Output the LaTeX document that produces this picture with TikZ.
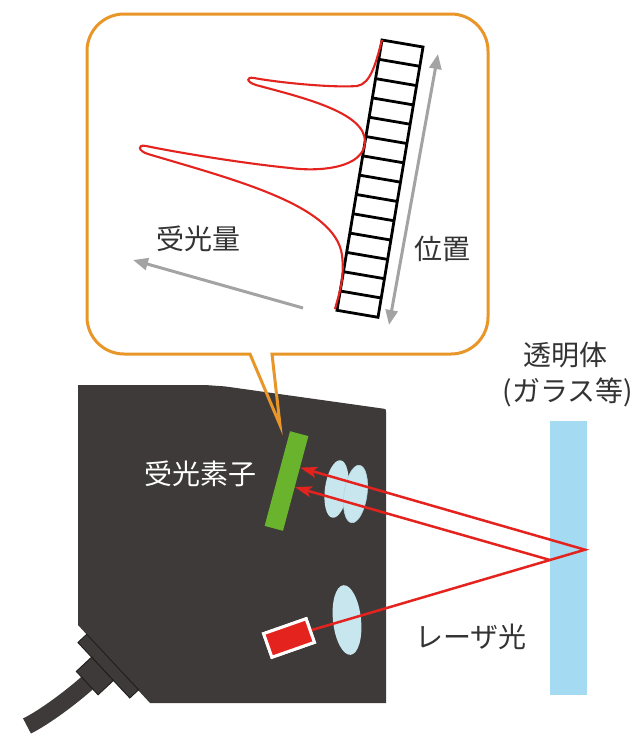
\documentclass[tikz,border=0pt]{standalone}
\usepackage{fontspec}
\newfontfamily\jpfont{Noto Sans CJK JP}
\usetikzlibrary{arrows.meta,calc,shapes.geometric}

\definecolor{bodygray}{RGB}{62,58,57}
\definecolor{bodyline}{RGB}{33,29,28}
\definecolor{calloutorange}{RGB}{232,150,40}
\definecolor{lensblue}{RGB}{200,230,238}
\definecolor{lensedge}{RGB}{178,214,226}
\definecolor{glassblue}{RGB}{165,218,243}
\definecolor{laserred}{RGB}{228,35,30}
\definecolor{sensorgreen}{RGB}{106,180,45}
\definecolor{axisgray}{RGB}{163,163,163}
\definecolor{textgray}{RGB}{51,51,51}

\tikzset{
  lbl/.style={font=\jpfont\fontsize{28}{32}\selectfont, text=textgray, inner sep=0pt},
  lblwhite/.style={lbl, text=white},
  calloutline/.style={draw=calloutorange, line width=3pt, line join=miter},
  cellline/.style={draw=black, line width=2.8pt, line join=miter},
  profile/.style={draw=laserred, line width=2.1pt},
  axisarrow/.style={draw=axisgray, line width=3pt, arrows={-Triangle[length=15pt,width=12pt]}},
  axisboth/.style={draw=axisgray, line width=3pt, arrows={Triangle[length=15pt,width=12pt]-Triangle[length=15pt,width=12pt]}},
  ray/.style={draw=laserred, line width=2.5pt, line join=miter},
  rayhead/.style={ray, arrows={-Stealth[length=17pt,width=11pt,inset=4pt]}},
  lensshape/.style={ellipse, fill=lensblue, inner sep=0pt},
  sensorbar/.style={rectangle, fill=sensorgreen, inner sep=0pt, minimum width=19pt, minimum height=98pt},
  laserbox/.style={rectangle, fill=laserred, draw=white, line width=3pt, inner sep=0pt, minimum width=45pt, minimum height=25pt},
  glasspane/.style={rectangle, fill=glassblue, inner sep=0pt, minimum width=37pt, minimum height=274pt},
  ringpart/.style={fill=bodygray, draw=bodyline, line width=0.9pt, line join=miter},
}

\begin{document}
\begin{tikzpicture}[x=1pt,y=-1pt]
\useasboundingbox (0,0) rectangle (639,736);

% ---- cable and strain relief ----
\draw[bodygray, line width=17pt] (89.4,681.1) .. controls (71.4,697.2) and (44.9,717) .. (27,726);

% ---- sensor housing ----
\fill[bodygray] (78,385) -- (205,385) .. controls (215,385) .. (225,386.4)
  -- (383,408.6) .. controls (386,409) .. (386,412) -- (386,703) -- (150,703) -- (78,625) -- cycle;

\draw[ringpart] (86.7,634.3) -- (77.9,642.5) -- (129.8,698.0) -- (138.6,689.8) -- cycle;
\draw[ringpart] (91.6,657.1) -- (76.3,671.4) -- (98.1,694.8) -- (113.4,680.5) -- cycle;

% ---- lenses ----
\node[lensshape, minimum width=23pt, minimum height=58pt, rotate=-8] (lensA) at (336.5,489) {};
\node[lensshape, draw=lensedge, line width=0.6pt, minimum width=23pt, minimum height=58pt, rotate=-8] (lensB) at (355.5,494) {};
\node[lensshape, minimum width=28pt, minimum height=70pt, rotate=6] (lensC) at (347,620) {};

% ---- receiver, emitter and target ----
\node[sensorbar, rotate=-15] (sensor) at (286.5,481) {};
\node[glasspane] (glass) at (568.5,558) {};

\coordinate (front) at (550,560);
\coordinate (back) at (585,549.7);
\coordinate (hitA) at ($(sensor.north east)!0.333!(sensor.south east)$);
\coordinate (hitB) at ($(sensor.north east)!0.538!(sensor.south east)$);

\node[laserbox, rotate=19.3] (laser) at (289,638) {};

\draw[rayhead] (laser.east) -- (back) -- (hitA);
\draw[rayhead] (front) -- (hitB);
\node[laserbox, rotate=19.3] at (laser.center) {};

% ---- callout ----
\draw[calloutline] (272,354) -- (451,354) .. controls (471.4,354) and (488,337.4) .. (488,317)
  -- (488,51) .. controls (488,30.6) and (471.4,14) .. (451,14)
  -- (124,14) .. controls (103.6,14) and (87,30.6) .. (87,51)
  -- (87,317) .. controls (87,337.4) and (103.6,354) .. (124,354)
  -- (250,354) -- (280,425) -- cycle;

% ---- element array ----
\coordinate (barTL) at (382,40);
\coordinate (barTR) at (423,47);
\coordinate (barBR) at (378,317.3);
\coordinate (barBL) at (337,310.3);
\draw[cellline, fill=white] (barTL) -- (barTR) -- (barBR) -- (barBL) -- cycle;
\foreach \i in {1,...,13}
  \draw[cellline] ($(barTL)!\i/14!(barBL)$) -- ($(barTR)!\i/14!(barBR)$);

% ---- received light profile ----
\draw[profile] (382,40) .. controls (376,62) and (371,84) .. (357,86)
  .. controls (330,88) and (275,82) .. (254,78)
  .. controls (246,76.5) and (246,82) .. (256,85)
  .. controls (300,97) and (366,112) .. (365,142)
  .. controls (364,168) and (320,172) .. (290,168)
  .. controls (240,163) and (175,152) .. (146,146)
  .. controls (137,144) and (138,151) .. (148,154)
  .. controls (235,180) and (335,205) .. (342,255)
  .. controls (345,280) and (338,297) .. (335,309);

% ---- axes ----
\coordinate (posLow) at (389,325);
\coordinate (posHigh) at (438,54);
\draw[axisboth] (posLow) -- (posHigh);
\coordinate (amtStart) at (303,308);
\coordinate (amtEnd) at (133,260);
\draw[axisarrow] (amtStart) -- (amtEnd);

% ---- labels ----
\node[lbl] (amountlbl) at (198,239) {受光量};
\node[lbl] (poslbl) at (442,249) {位置};
\node[lblwhite] (sensorlbl) at (200,474) {受光素子};
\node[lbl] (glasslbl) at (565,355) {透明体};
\node[lbl] (glasssub) at (568,392) {(ガラス等)};
\node[lbl] (laserlbl) at (471,637) {レーザ光};
\end{tikzpicture}
\end{document}
